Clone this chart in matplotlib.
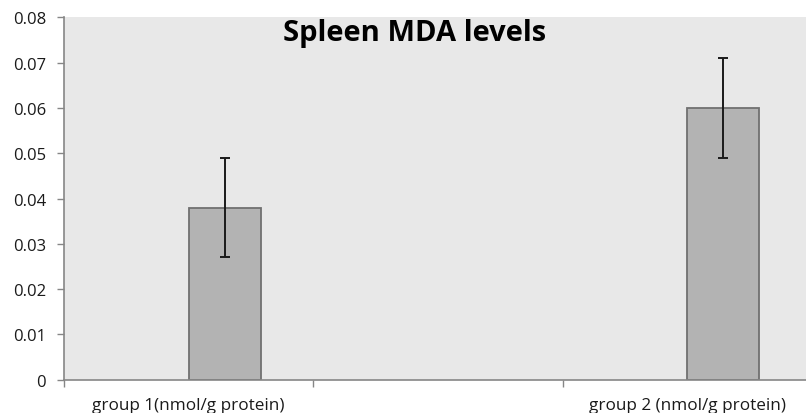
import matplotlib.pyplot as plt
import numpy as np

# data
categories = ['group 1(nmol/g protein)', '', 'group 2 (nmol/g protein)']
mda_values = [0.038, 0.0, 0.060]
mda_errors = [0.011, 0.0, 0.011]
y_ticks = [0, 0.01, 0.02, 0.03, 0.04, 0.05, 0.06, 0.07, 0.08]

plt.rcParams['font.family'] = ['Open Sans', 'DejaVu Sans']

fig = plt.figure(figsize=(8.06, 4.14), dpi=100)
ax = fig.add_axes([64 / 806, 33.3 / 414, 748 / 806, 362.4 / 414])
ax.set_facecolor('#e8e8e8')

x = np.arange(len(categories))
bar_w = 0.289
shown = [i for i, v in enumerate(mda_values) if v > 0]
xs = x[shown] + bar_w / 2
vals = [mda_values[i] for i in shown]
errs = [mda_errors[i] for i in shown]

ax.bar(xs, vals, width=bar_w, color='#b3b3b3', edgecolor='#707070', linewidth=1.3, zorder=2)
ax.errorbar(xs, vals, yerr=errs, fmt='none', ecolor='#1a1a1a', elinewidth=1.4,
            capsize=3.6, capthick=1.4, zorder=3)

ax.set_xlim(-0.5, len(categories) - 0.5)
ax.set_ylim(0, 0.08)
ax.set_yticks(y_ticks)
ax.set_yticklabels(['0'] + [f'{v:.2f}' for v in y_ticks[1:]])

ax.set_xticks(x)
ax.set_xticklabels(categories)
ax.set_xticks(np.arange(len(categories) + 1) - 0.5, minor=True)
ax.tick_params(axis='x', which='major', length=0, pad=12.5, labelsize=12.3, colors='#1a1a1a')
ax.tick_params(axis='x', which='minor', length=5, color='#868686', width=1)
ax.tick_params(axis='y', length=5, color='#868686', width=1, pad=8, labelsize=12,
               labelcolor='#1a1a1a')

for s in ['top', 'right']:
    ax.spines[s].set_visible(False)
for s in ['left', 'bottom']:
    ax.spines[s].set_color('#868686')
    ax.spines[s].set_linewidth(1.2)

fig.text(415 / 806, 1 - 33 / 414, 'Spleen MDA levels', ha='center', va='center',
         fontsize=21, fontweight='bold', color='black')

fig.savefig('out.png', dpi=100)
